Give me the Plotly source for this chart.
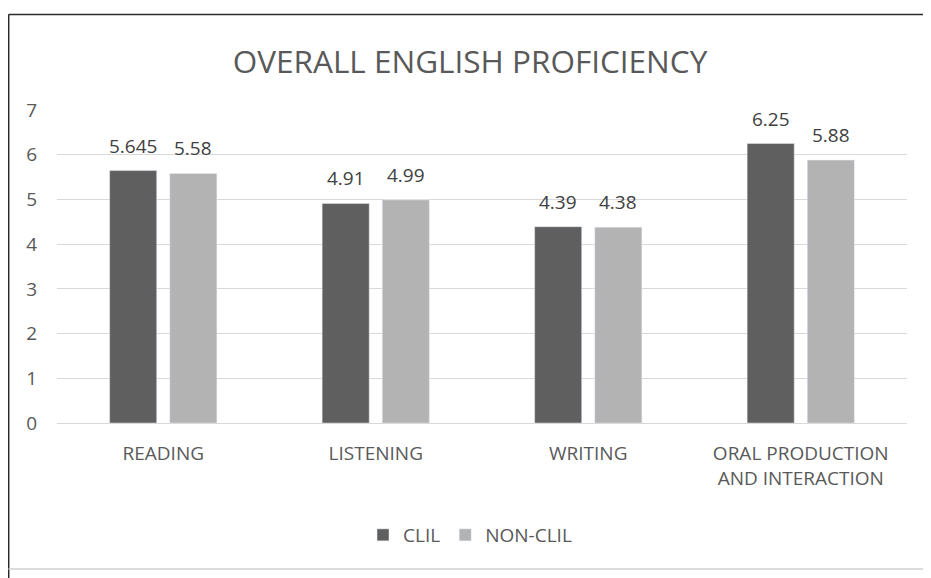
import plotly.graph_objects as go

categories = ["READING", "LISTENING", "WRITING", "ORAL PRODUCTION<br>AND INTERACTION"]
clil = [5.645, 4.91, 4.39, 6.25]
non_clil = [5.58, 4.99, 4.38, 5.88]
y_ticks = [0, 1, 2, 3, 4, 5, 6, 7]

FONT = "Open Sans, sans-serif"
OFF = 8  # page body margin
W, H = 931 - OFF, 578 - OFF
L, R, T, B = 57 - OFF, 24, 110 - OFF, 155
pw, ph = W - L - R, H - T - B

def px(x):
    # page pixel x -> paper coordinate
    return (x - OFF - L) / pw

def py(y):
    # page pixel y -> paper coordinate
    return (H - B - (y - OFF)) / ph

BARGAP, GROUPGAP = 0.434, 0.217
cat_px = pw / len(categories)
slot_px = (1 - BARGAP) * cat_px / 2

fig = go.Figure()
fig.add_trace(go.Bar(name="CLIL", x=categories, y=clil, marker_color="#5f5f5f"))
fig.add_trace(go.Bar(name="NON-CLIL", x=categories, y=non_clil, marker_color="#b3b3b3"))

annotations = []
for vals, sgn in ((clil, -1), (non_clil, 1)):
    for c, v in zip(categories, vals):
        annotations.append(dict(x=c, y=v, xref="x", yref="y", text=str(v), showarrow=False,
                                xshift=sgn * slot_px / 2, yshift=10, yanchor="bottom",
                                font=dict(size=19, color="#404040", family=FONT)))

shapes = [
    dict(type="line", xref="paper", yref="paper", x0=px(8.5), x1=px(931), y0=py(14.5), y1=py(14.5),
         line=dict(color="#2a2a2a", width=1.5)),
    dict(type="line", xref="paper", yref="paper", x0=px(8.7), x1=px(8.7), y0=py(14.5), y1=py(578),
         line=dict(color="#2a2a2a", width=1.5)),
    dict(type="line", xref="paper", yref="paper", x0=px(8.5), x1=px(931), y0=py(569), y1=py(569),
         line=dict(color="#d0d0d0", width=1.5)),
    dict(type="line", xref="paper", yref="paper", x0=px(927), x1=px(927), y0=py(14.5), y1=py(569),
         line=dict(color="#f0f0f0", width=1)),
]

fig.update_layout(
    width=W, height=H,
    margin=dict(l=L, r=R, t=T, b=B),
    paper_bgcolor="white", plot_bgcolor="white",
    barmode="group", bargap=BARGAP, bargroupgap=GROUPGAP,
    font=dict(family=FONT, color="#595959", size=19),
    title=dict(text="OVERALL ENGLISH PROFICIENCY", x=px(470), xref="paper", xanchor="center",
               y=1 - (62 - OFF) / H, yanchor="middle",
               font=dict(size=31.5, color="#595959", family=FONT)),
    xaxis=dict(showgrid=False, showline=False, zeroline=False, ticks="outside", ticklen=13,
               tickcolor="rgba(0,0,0,0)", tickfont=dict(size=19, color="#595959")),
    yaxis=dict(range=[0, 7], tickvals=y_ticks, showgrid=True, gridcolor="#d9d9d9", gridwidth=1,
               zeroline=True, zerolinecolor="#d9d9d9", zerolinewidth=1, showline=False,
               ticks="outside", ticklen=15, tickcolor="rgba(0,0,0,0)",
               tickfont=dict(size=19, color="#595959")),
    legend=dict(orientation="h", x=px(470), xanchor="center", y=py(535), yanchor="middle",
                font=dict(size=19, color="#595959"), itemwidth=30, traceorder="normal"),
    shapes=shapes,
    annotations=annotations,
)

fig.write_html("out.html")
